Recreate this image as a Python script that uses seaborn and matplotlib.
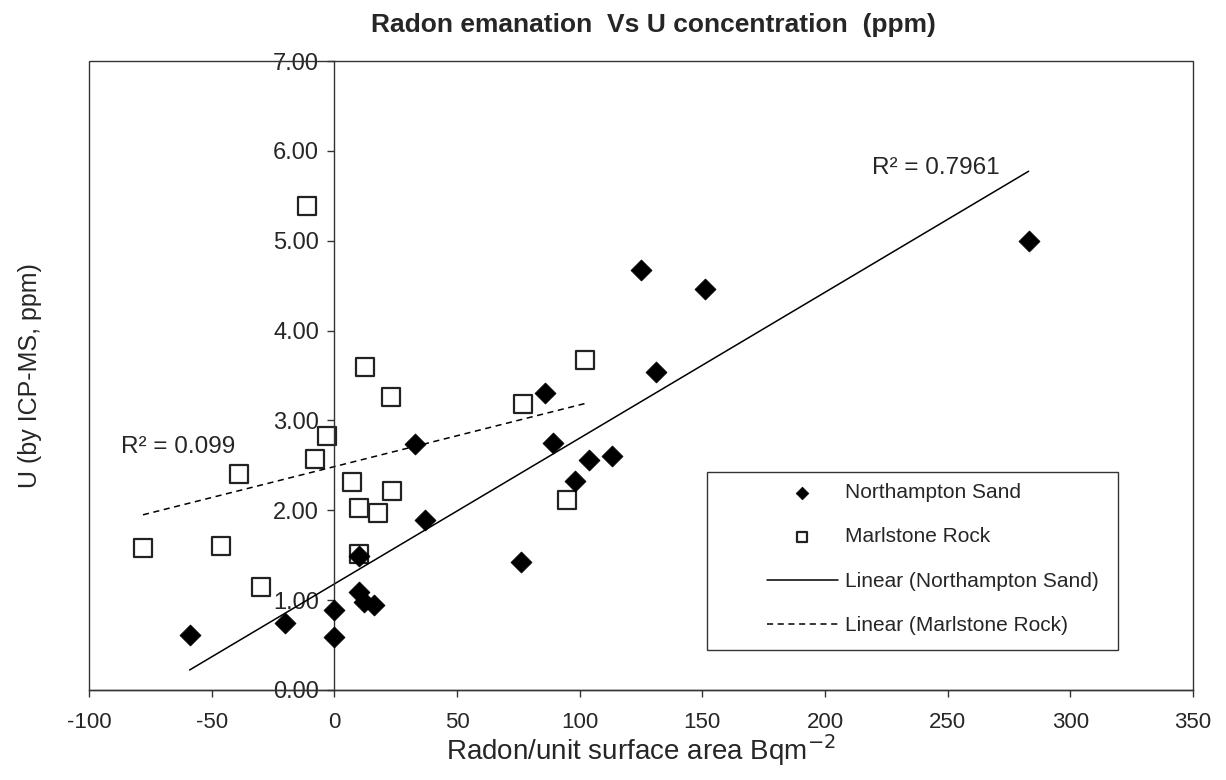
import numpy as np
import matplotlib
matplotlib.use("Agg")
import matplotlib.pyplot as plt
from matplotlib.patches import Rectangle
import seaborn as sns

# --- data ---
ns_radon = [-59, -20, 0, 0, 10, 10, 12, 16, 33, 37, 76, 86, 89, 98, 104, 113, 125, 131, 151, 283]
ns_u = [0.61, 0.75, 0.89, 0.59, 1.49, 1.09, 0.98, 0.95, 2.74, 1.89, 1.42, 3.31, 2.75, 2.33, 2.56,
        2.60, 4.67, 3.54, 4.46, 5.00]

mr_radon = [-78, -46, -39, -30, -11, -8, -3, 7, 10, 10, 12.6, 18, 23, 23.5, 77, 95, 102]
mr_u = [1.58, 1.60, 2.40, 1.15, 5.39, 2.57, 2.83, 2.32, 2.02, 1.51, 3.60, 1.97, 3.26, 2.21,
        3.18, 2.12, 3.67]

ns_r2 = "R² = 0.7961"
mr_r2 = "R² = 0.099"

x_ticks = list(range(-100, 351, 50))
y_ticks = list(range(0, 8))

# --- style ---
sns.set_style("white")
plt.rcParams["font.family"] = ["Liberation Sans", "DejaVu Sans"]

fig = plt.figure(figsize=(12.26, 7.8), dpi=100)
ax = fig.add_axes([89 / 1226, 90 / 780, 1104 / 1226, 629 / 780])

# points
sns.scatterplot(x=ns_radon, y=ns_u, marker="D", s=115, color="black", edgecolor="black",
                linewidth=0.5, label="Northampton Sand", ax=ax, zorder=3)
sns.scatterplot(x=mr_radon, y=mr_u, marker="s", s=165, facecolor="white", edgecolor="#222222",
                linewidth=1.6, label="Marlstone Rock", ax=ax, zorder=2)

# trend lines
sns.regplot(x=np.array(ns_radon, float), y=np.array(ns_u), scatter=False, ci=None, truncate=True,
            color="black", line_kws=dict(lw=1.1), label="Linear (Northampton Sand)", ax=ax)
sns.regplot(x=np.array(mr_radon, float), y=np.array(mr_u), scatter=False, ci=None, truncate=True,
            color="black", line_kws=dict(lw=1.1, ls=(0, (4, 3))), label="Linear (Marlstone Rock)", ax=ax)

ax.text(219, 5.81, ns_r2, fontsize=17.5, va="center", ha="left")
ax.text(-87, 2.70, mr_r2, fontsize=17.5, va="center", ha="left")

# axes: y axis crosses at x = 0, outer box around plot area
for side in ["top", "right"]:
    ax.spines[side].set_visible(False)
ax.spines["left"].set_position(("data", 0))
for side in ["left", "bottom"]:
    ax.spines[side].set_color("#333333")
    ax.spines[side].set_linewidth(1.0)
ax.add_patch(Rectangle((0, 0), 1, 1, transform=ax.transAxes, fill=False, ec="#333333", lw=1.0,
                       clip_on=False, zorder=5))

ax.set_xlim(-100, 350)
ax.set_ylim(0, 7)
ax.set_xticks(x_ticks)
ax.set_xticklabels([str(v) for v in x_ticks])
ax.set_yticks(y_ticks)
ax.set_yticklabels([f"{v:.2f}" for v in y_ticks])
ax.tick_params(axis="both", direction="out", length=5, width=1.0, color="#333333",
               bottom=True, left=True)
ax.tick_params(axis="x", labelsize=16, pad=11)
ax.tick_params(axis="y", labelsize=17, pad=6)

ax.set_xlabel("Radon/unit surface area Bqm$^{-2}$", fontsize=20, labelpad=-1)
ax.set_ylabel("U (by ICP-MS, ppm)", fontsize=18)
ax.yaxis.set_label_coords(-0.043, 0.5)

fig.text(653 / 1226, 1 - 25 / 780, "Radon emanation  Vs U concentration  (ppm)", fontsize=19,
         fontweight="bold", ha="center", va="center")

# legend with an Excel-like wide frame
leg_handles, leg_labels = ax.get_legend_handles_labels()
ax.legend(leg_handles, leg_labels, loc="upper left", bbox_to_anchor=(767 / 1226, 1 - 483 / 780),
          bbox_transform=fig.transFigure, frameon=False, fontsize=15, borderpad=0, borderaxespad=0,
          handlelength=3.4, handletextpad=0.35, labelspacing=1.22, markerscale=0.6)
fig.add_artist(Rectangle((707 / 1226, 1 - 650 / 780), 411 / 1226, 178 / 780,
                         transform=fig.transFigure, fill=False, ec="#333333", lw=1.0))

fig.savefig("out.png", dpi=100)
